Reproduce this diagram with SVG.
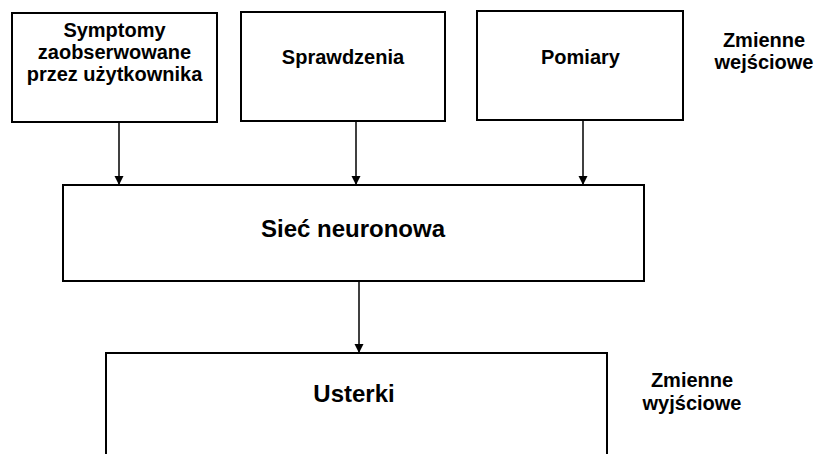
<svg xmlns="http://www.w3.org/2000/svg" width="814" height="454" viewBox="0 0 814 454">
<style>
.box{fill:#fff;stroke:#000;stroke-width:2}
.t{font-family:"Liberation Sans",Arial,sans-serif;font-weight:bold;fill:#000;text-anchor:middle}
.s{font-size:20px}
.b{font-size:24px}
.c{stroke:#000;stroke-width:1.5;fill:none;marker-end:url(#ah)}
</style>
<defs>
<marker id="ah" viewBox="0 0 10 10" refX="10" refY="5" markerUnits="userSpaceOnUse" markerWidth="9" markerHeight="10" orient="auto">
<path d="M0,0 L10,5 L0,10 Z" fill="#000"/>
</marker>
</defs>
<rect width="814" height="454" fill="#fff"/>
<g id="connectors">
<line class="c" x1="119" y1="122" x2="119" y2="185"/>
<line class="c" x1="356" y1="121" x2="356" y2="185"/>
<line class="c" x1="583" y1="120" x2="583" y2="185"/>
<line class="c" x1="359" y1="281" x2="359" y2="353"/>
</g>
<g id="symptomy">
<rect class="box" x="12" y="13" width="205" height="109"/>
<text class="t s" x="114.5" y="37">Symptomy</text>
<text class="t s" x="114.5" y="59">zaobserwowane</text>
<text class="t s" x="114.5" y="81">przez użytkownika</text>
</g>
<g id="sprawdzenia">
<rect class="box" x="241" y="12" width="204" height="109"/>
<text class="t s" x="343" y="64">Sprawdzenia</text>
</g>
<g id="pomiary">
<rect class="box" x="477" y="11" width="206" height="109"/>
<text class="t s" x="580.5" y="64">Pomiary</text>
</g>
<g id="zmienne-wejsciowe">
<text class="t s" x="764" y="47">Zmienne</text>
<text class="t s" x="764" y="69">wejściowe</text>
</g>
<g id="siec">
<rect class="box" x="63" y="185" width="581" height="96"/>
<text class="t b" x="353" y="237">Sieć neuronowa</text>
</g>
<g id="usterki">
<rect class="box" x="106" y="353" width="501" height="120"/>
<text class="t b" x="354" y="402">Usterki</text>
</g>
<g id="zmienne-wyjsciowe">
<text class="t s" x="692" y="387">Zmienne</text>
<text class="t s" x="692" y="410">wyjściowe</text>
</g>
</svg>
